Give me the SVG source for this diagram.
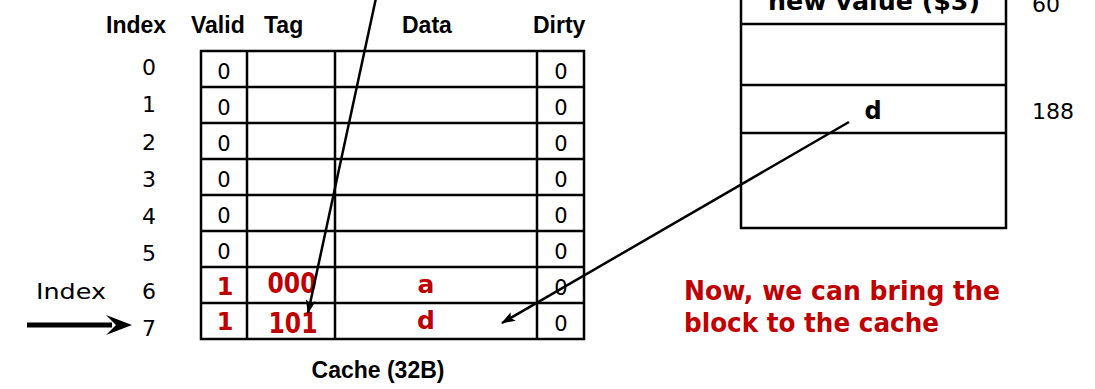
<svg xmlns="http://www.w3.org/2000/svg" width="1095" height="389" viewBox="0 0 1095 389">
<style>
.hdr{font-family:"Liberation Sans",Arial,sans-serif;font-weight:bold;font-size:23px;fill:#000}
.num{font-family:"DejaVu Sans","Noto Sans",sans-serif;font-size:21px;fill:#000}
.lbl{font-family:"DejaVu Sans","Noto Sans",sans-serif;font-size:22px;fill:#000}
.red{font-family:"DejaVu Sans","Noto Sans",sans-serif;font-weight:bold;fill:#C00000}
.blk{font-family:"DejaVu Sans","Noto Sans",sans-serif;font-weight:bold;fill:#000}
.grid{fill:none;stroke:#000;stroke-width:2.5}
.conn{fill:none;stroke:#000;stroke-width:2.5}
</style>
<defs>
<marker id="ah" markerWidth="14" markerHeight="10" refX="13" refY="5" orient="auto" markerUnits="userSpaceOnUse">
<path d="M0,0 L14,5 L0,10 L3,5 z" fill="#000"/>
</marker>
</defs>
<rect width="1095" height="389" fill="#fff"/>

<g id="headers">
<text class="hdr" x="106" y="33">Index</text>
<text class="hdr" x="191" y="33">Valid</text>
<text class="hdr" x="264" y="33">Tag</text>
<text class="hdr" x="402" y="33">Data</text>
<text class="hdr" x="533" y="33">Dirty</text>
</g>

<g id="row-labels" class="lbl" text-anchor="middle">
<text x="149" y="75">0</text>
<text x="149" y="112">1</text>
<text x="149" y="150">2</text>
<text x="149" y="187">3</text>
<text x="149" y="224">4</text>
<text x="149" y="261">5</text>
<text x="149" y="299">6</text>
<text x="149" y="336">7</text>
</g>

<g id="index-label">
<text class="lbl" x="36" y="299" font-size="26" textLength="70" lengthAdjust="spacingAndGlyphs">Index</text>
</g>

<g id="cache">
<rect class="grid" x="201" y="51" width="383" height="288"/>
<path class="grid" d="M247,51V339M335,51V339M537,51V339M201,87H584M201,123H584M201,159H584M201,195H584M201,231H584M201,267H584M201,303H584"/>
<g class="num" text-anchor="middle">
<text x="224" y="79">0</text><text x="561" y="79">0</text>
<text x="224" y="115">0</text><text x="561" y="115">0</text>
<text x="224" y="151">0</text><text x="561" y="151">0</text>
<text x="224" y="187">0</text><text x="561" y="187">0</text>
<text x="224" y="223">0</text><text x="561" y="223">0</text>
<text x="224" y="259">0</text><text x="561" y="259">0</text>
<text x="561" y="295">0</text>
<text x="561" y="331">0</text>
</g>
<g class="red" text-anchor="middle">
<text x="225" y="295" font-size="24">1</text>
<text x="225" y="330" font-size="24">1</text>
<text x="292" y="293" font-size="28" textLength="49" lengthAdjust="spacingAndGlyphs">000</text>
<text x="293" y="333" font-size="28" textLength="49" lengthAdjust="spacingAndGlyphs">101</text>
<text x="426" y="293" font-size="25">a</text>
<text x="426" y="329" font-size="25">d</text>
</g>
<text class="hdr" x="378" y="378" text-anchor="middle">Cache (32B)</text>
</g>

<g id="memory">
<path class="grid" d="M741,0V228H1006V0M741,24H1006M741,85H1006M741,133H1006"/>
<text class="blk" x="874" y="10" font-size="25" text-anchor="middle" textLength="212" lengthAdjust="spacingAndGlyphs">new value ($3)</text>
<text class="blk" x="873" y="119" font-size="24" text-anchor="middle">d</text>
<text class="lbl" x="1032" y="12" font-size="23">60</text>
<text class="lbl" x="1032" y="119" font-size="23">188</text>
</g>

<g id="note">
<text class="red" x="684" y="300" font-size="27" textLength="316" lengthAdjust="spacingAndGlyphs">Now, we can bring the</text>
<text class="red" x="684" y="332" font-size="27" textLength="255" lengthAdjust="spacingAndGlyphs">block to the cache</text>
</g>

<g id="connectors">
<line class="conn" x1="376" y1="-2" x2="308" y2="313" marker-end="url(#ah)"/>
<line class="conn" x1="849" y1="122" x2="502" y2="323" marker-end="url(#ah)"/>
<line x1="27" y1="325" x2="112" y2="325" stroke="#000" stroke-width="5"/>
<path d="M132,325 L106,315 L116,325 L106,335 z" fill="#000"/>
</g>
</svg>
